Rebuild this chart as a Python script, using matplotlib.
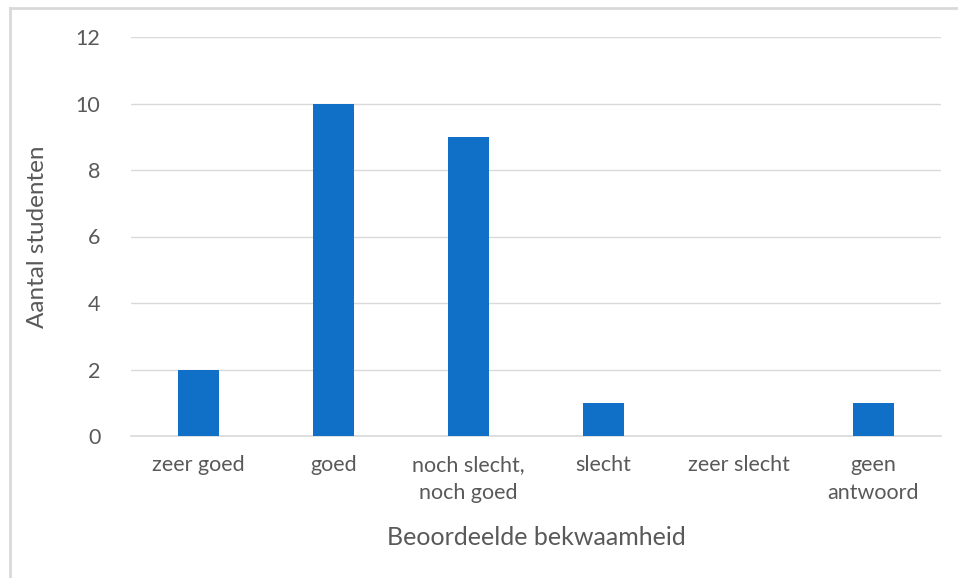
import numpy as np
import matplotlib.pyplot as plt
from matplotlib.lines import Line2D

# categorieën en aantallen
categorieen = ['zeer goed', 'goed', 'noch slecht,\nnoch goed', 'slecht', 'zeer slecht', 'geen\nantwoord']
aantallen = [2, 10, 9, 1, 0, 1]
y_ticks = [0, 2, 4, 6, 8, 10, 12]

plt.rcParams['font.family'] = ['Lato', 'DejaVu Sans']
tekstkleur = '#595959'
grijs = '#d9d9d9'

fig = plt.figure(figsize=(9.58, 5.78), dpi=100)
ax = fig.add_axes([131/958, 1 - 436/578, 810/958, 399/578])

x = np.arange(len(categorieen))
ax.bar(x, aantallen, width=0.3, color='#1070c8', zorder=3)

ax.set_xlim(-0.5, len(categorieen) - 0.5)
ax.set_ylim(0, 12)
ax.set_yticks(y_ticks)
ax.set_xticks(x)
ax.set_xticklabels(categorieen, fontsize=15.5, color=tekstkleur, linespacing=1.45)
ax.tick_params(axis='y', labelsize=15.5, labelcolor=tekstkleur, length=0, pad=22)
ax.tick_params(axis='x', length=0, pad=14)
ax.grid(axis='y', color=grijs, linewidth=1, zorder=0)

for s in ['top', 'right', 'left']:
    ax.spines[s].set_visible(False)
ax.spines['bottom'].set_color(grijs)
ax.spines['bottom'].set_linewidth(1.2)

ax.set_ylabel('Aantal studenten', fontsize=17.5, color=tekstkleur, labelpad=20)
ax.set_xlabel('Beoordeelde bekwaamheid', fontsize=18, color=tekstkleur, labelpad=17)

# lichtgrijze rand van het diagram
fig.add_artist(Line2D([10/958, 10/958], [0, 1 - 8/578], color=grijs, linewidth=2, transform=fig.transFigure))
fig.add_artist(Line2D([10/958, 1], [1 - 8/578, 1 - 8/578], color=grijs, linewidth=2, transform=fig.transFigure))

plt.savefig('out.png', dpi=100)
